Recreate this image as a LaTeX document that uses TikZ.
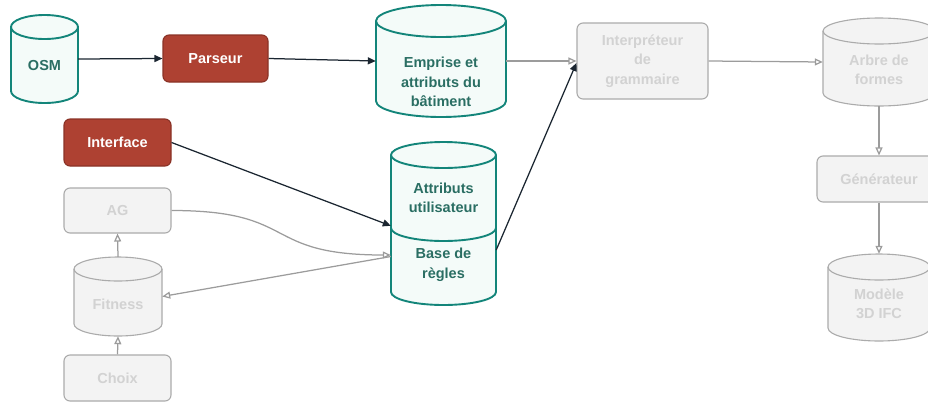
\documentclass[tikz,border=0pt]{standalone}
\usepackage{fontspec}
\setmainfont{Liberation Sans}
\usetikzlibrary{arrows.meta,calc}
\definecolor{tealline}{HTML}{13857A}
\definecolor{tealfill}{HTML}{F4FBF9}
\definecolor{tealtext}{HTML}{2A6E63}
\definecolor{redfill}{HTML}{AE4132}
\definecolor{redline}{HTML}{8A3226}
\definecolor{grayline}{HTML}{ABABAB}
\definecolor{grayfill}{HTML}{F3F3F3}
\definecolor{graytext}{HTML}{D2D2D2}
\definecolor{darkline}{HTML}{1B2631}
\definecolor{grayarrow}{HTML}{9C9C9C}
\newcommand\mycyl[7]{%
  \pgfmathsetmacro\cylrx{(#4-#2)/2}%
  \pgfmathsetmacro\cylcx{(#2+#4)/2}%
  \pgfmathsetmacro\cylcy{-(#3+#5)/2}%
  \pgfmathsetmacro\cylw{#4-#2}%
  \pgfmathsetmacro\cylh{#5-#3}%
  \path[#7] (#2,-#3-#6) -- (#2,-#5+#6) arc[start angle=180,end angle=360,x radius=\cylrx,y radius=#6] -- (#4,-#3-#6) arc[start angle=0,end angle=180,x radius=\cylrx,y radius=#6] -- cycle;
  \draw[#7,fill=none] (#2,-#3-#6) arc[start angle=180,end angle=360,x radius=\cylrx,y radius=#6];
  \node[inner sep=0pt,minimum width=\cylw pt,minimum height=\cylh pt] (#1) at (\cylcx,\cylcy) {};
}
\tikzset{
  x=1pt,y=1pt,
  tealcyl/.style={draw=tealline,fill=tealfill,line width=1.9pt},
  graycyl/.style={draw=grayline,fill=grayfill,line width=1.1pt},
  tealtxt/.style={text=tealtext,font=\bfseries\fontsize{14.5}{19.5}\selectfont,align=center,inner sep=0pt},
  graytxt/.style={text=graytext,font=\bfseries\fontsize{14.5}{19.5}\selectfont,align=center,inner sep=0pt},
  redbox/.style={draw=redline,fill=redfill,rounded corners=6pt,line width=1.1pt,text=white,font=\bfseries\fontsize{14.5}{18}\selectfont,inner sep=0pt},
  graybox/.style={draw=grayline,fill=grayfill,rounded corners=6pt,line width=1.1pt,text=graytext,font=\bfseries\fontsize{14.5}{19.5}\selectfont,align=center,inner sep=0pt},
  darkarrow/.style={draw=darkline,line width=1.25pt,-{Triangle[length=8pt,width=7pt]}},
  grayarr/.style={draw=grayarrow,line width=1.25pt,-{Triangle[open,length=8pt,width=7pt,fill=white]}},
}
\begin{document}
\begin{tikzpicture}
\useasboundingbox (0,0) rectangle (928,-402);
% cylinders
\mycyl{osm}{11}{15}{78}{103}{12}{tealcyl}
\node[tealtxt] at (44.5,-66) {OSM};
\mycyl{emprise}{376}{5}{506}{117}{16}{tealcyl}
\node[tealtxt] at (441,-82) {Emprise et\\attributs du\\bâtiment};
\mycyl{bdd}{391}{142}{496}{305}{13}{tealcyl}
\draw[tealcyl,fill=none] (391,-228) arc[start angle=180,end angle=360,x radius=52.5,y radius=13];
\node[inner sep=0pt,minimum width=105pt,minimum height=86pt] (attr) at (443.5,-185) {};
\node[inner sep=0pt,minimum width=105pt,minimum height=77pt] (regles) at (443.5,-266.5) {};
\node[tealtxt] at (443.5,-198) {Attributs\\utilisateur};
\node[tealtxt] at (443.5,-265) {Base de\\règles};
\mycyl{arbre}{823}{18}{935}{106}{13}{graycyl}
\node[graytxt] at (879,-70) {Arbre de\\formes};
\mycyl{modele}{828}{254}{930}{341}{13}{graycyl}
\node[graytxt] at (879,-304) {Modèle\\3D IFC};
\mycyl{fitness}{74}{257}{162}{336}{12}{graycyl}
\node[graytxt] at (118,-304) {Fitness};
% boxes
\node[redbox,minimum width=105pt,minimum height=47pt] (parseur) at (215.5,-58.5) {Parseur};
\node[redbox,minimum width=107pt,minimum height=47pt] (interface) at (117.5,-142.5) {Interface};
\node[graybox,minimum width=131pt,minimum height=76pt] (interp) at (642.5,-61) {Interpréteur\\de\\grammaire};
\node[graybox,minimum width=124pt,minimum height=46pt] (gen) at (879,-179) {Générateur};
\node[graybox,minimum width=107pt,minimum height=45pt] (ag) at (117.5,-210.5) {AG};
\node[graybox,minimum width=107pt,minimum height=46pt] (choix) at (117.5,-378) {Choix};
% dark connectors
\draw[darkarrow] (osm.east) -- (parseur.west);
\draw[darkarrow] (parseur.east) -- (emprise.west);
\draw[darkarrow] (interface.east) -- ([yshift=2pt]regles.north west);
\draw[darkarrow] ([yshift=16.5pt]regles.east) -- ([yshift=-2pt]interp.west);
% gray connectors
\draw[grayarr] (emprise.east) -- (interp.west);
\draw[grayarr] (interp.east) -- (arbre.west);
\draw[grayarr] (arbre.south) -- (gen.north);
\draw[grayarr] (gen.south) -- (modele.north);
\draw[grayarr] (fitness.north) -- (ag.south);
\draw[grayarr] (choix.north) -- (fitness.south);
\draw[grayarr] (ag.east) .. controls (300,-210.5) and (260,-255) .. ([yshift=11.5pt]regles.west);
\draw[grayarr] ([yshift=10pt]regles.west) -- (fitness.east);
\end{tikzpicture}
\end{document}
